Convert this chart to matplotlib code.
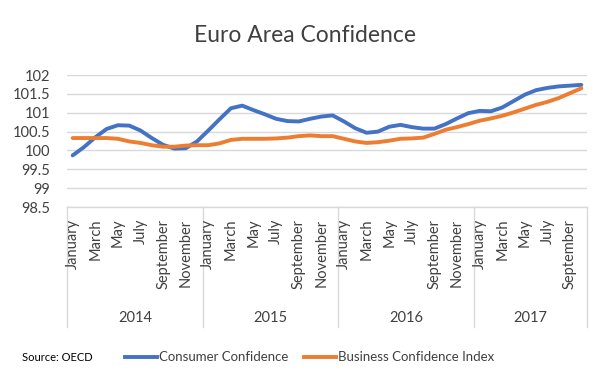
import matplotlib
matplotlib.use("Agg")
import matplotlib.pyplot as plt
import matplotlib.transforms as mtransforms
from matplotlib.lines import Line2D

plt.rcParams['font.family'] = ['Lato', 'DejaVu Sans']

# Monthly data, Jan 2014 - Oct 2017
years = ["2014", "2015", "2016", "2017"]
months_per_year = [12, 12, 12, 10]
month_names = ["January", "February", "March", "April", "May", "June", "July",
               "August", "September", "October", "November", "December"]

consumer = [99.87, 100.09, 100.35, 100.57, 100.67, 100.66, 100.53, 100.33, 100.15, 100.05, 100.06, 100.24,
            100.53, 100.83, 101.12, 101.19, 101.07, 100.96, 100.84, 100.78, 100.77, 100.84, 100.90, 100.93,
            100.77, 100.59, 100.47, 100.50, 100.63, 100.68, 100.62, 100.58, 100.58, 100.70, 100.85, 100.99,
            101.05, 101.04, 101.14, 101.31, 101.48, 101.60, 101.66, 101.70, 101.72, 101.74]
business = [100.33, 100.33, 100.33, 100.33, 100.31, 100.24, 100.20, 100.14, 100.10, 100.10, 100.13, 100.14,
            100.14, 100.19, 100.28, 100.31, 100.31, 100.31, 100.32, 100.34, 100.38, 100.40, 100.38, 100.38,
            100.31, 100.24, 100.20, 100.22, 100.26, 100.31, 100.32, 100.34, 100.44, 100.55, 100.62, 100.70,
            100.79, 100.85, 100.92, 101.01, 101.11, 101.21, 101.29, 101.39, 101.52, 101.65]

blue = "#4472C4"
orange = "#ED7D31"
grid_c = "#D9D9D9"
text_c = "#404040"

fig = plt.figure(figsize=(6.11, 3.87), dpi=100)
ax = fig.add_axes([0.1097, 0.465, 0.851, 0.341])

x = list(range(len(consumer)))
ax.plot(x, consumer, color=blue, lw=2.8, solid_capstyle='round')
ax.plot(x, business, color=orange, lw=2.8, solid_capstyle='round')

ax.set_xlim(-0.5, len(consumer) - 0.5)
ax.set_ylim(98.5, 102)
ax.set_yticks([98.5 + 0.5 * k for k in range(8)])
ax.set_yticklabels(["98.5", "99", "99.5", "100", "100.5", "101", "101.5", "102"])
ax.tick_params(axis='y', length=0, pad=12, labelsize=10.5, labelcolor=text_c)
ax.set_xticks([])
ax.yaxis.grid(True, color=grid_c, lw=1)
ax.set_axisbelow(True)
for s in ax.spines.values():
    s.set_visible(False)

# multi-level category axis
trans = mtransforms.blended_transform_factory(ax.transData, ax.transAxes)
ax.plot([-0.5, len(consumer) - 0.5], [0, 0], transform=trans, color=grid_c, lw=1, clip_on=False)
start = 0
bounds = [-0.5]
for yr, n in zip(years, months_per_year):
    for m in range(0, n, 2):
        ax.text(start + m, -0.09, month_names[m], transform=trans, rotation=90,
                ha='center', va='top', fontsize=10.5, color=text_c)
    ax.text(start + (n - 1) / 2, -0.84, yr, transform=trans, ha='center', va='center',
            fontsize=10.5, color=text_c)
    start += n
    bounds.append(start - 0.5)
for b in bounds:
    ax.plot([b, b], [0, -0.91], transform=trans, color=grid_c, lw=1, clip_on=False)

fig.text(0.5, 0.907, "Euro Area Confidence", ha='center', va='center', fontsize=16.5, color=text_c)

fig.text(0.036, 0.077, "Source: OECD", ha='left', va='center', fontsize=8, color='black')
handles = [Line2D([], [], color=blue, lw=2.8), Line2D([], [], color=orange, lw=2.8)]
fig.legend(handles, ["Consumer Confidence", "Business Confidence Index"], loc='center left',
           bbox_to_anchor=(0.205, 0.077), ncol=2, frameon=False, fontsize=9.5,
           handlelength=2.4, handletextpad=0.15, columnspacing=1.2, labelcolor=text_c,
           borderpad=0, borderaxespad=0)

fig.savefig("out.png", dpi=100)
